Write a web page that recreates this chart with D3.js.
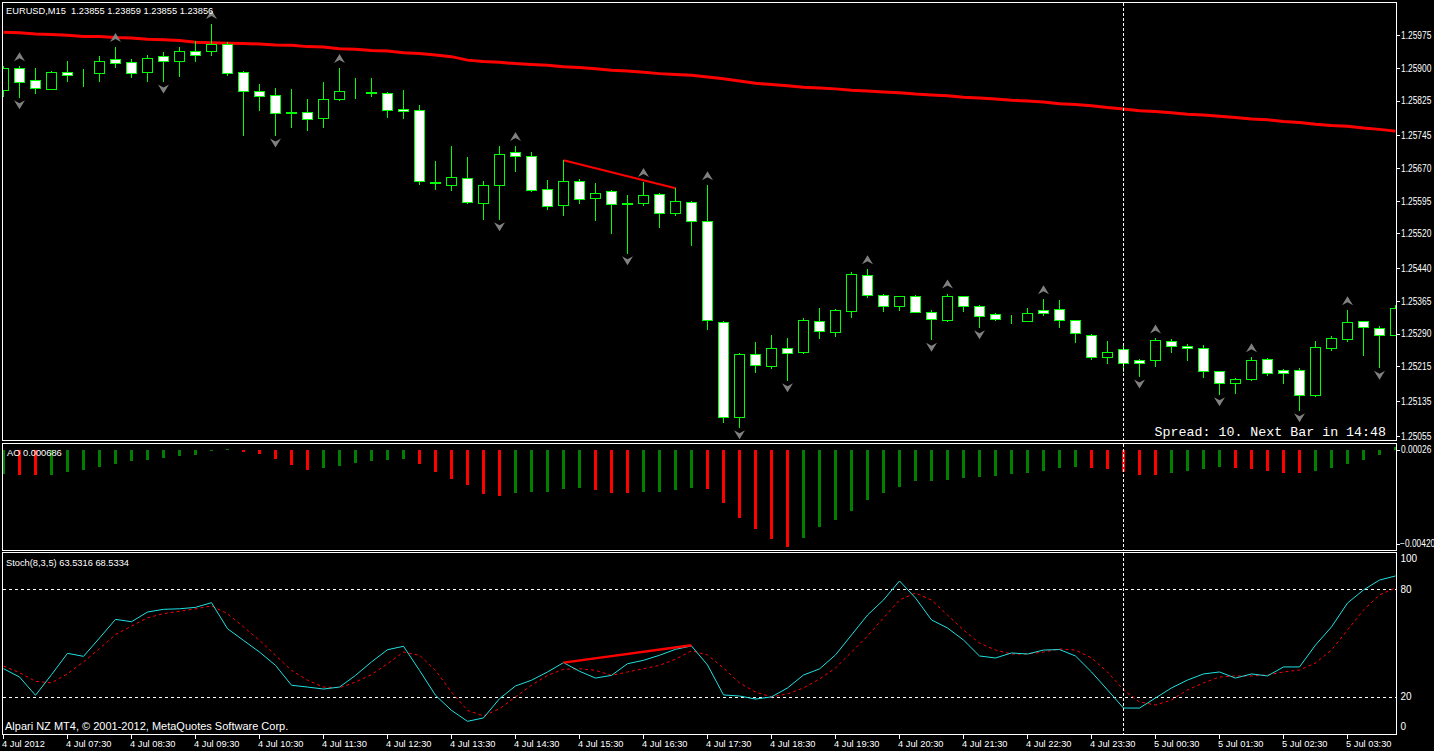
<!DOCTYPE html>
<html><head><meta charset="utf-8">
<script src="https://cdn.jsdelivr.net/npm/d3@7"></script>
<style>html,body{margin:0;padding:0;background:#000;overflow:hidden}</style>
</head><body><svg id="c" width="1434" height="751"></svg>
<script>
// ---------- DATA ----------
const timeLabels = ["4 Jul 2012","4 Jul 07:30","4 Jul 08:30","4 Jul 09:30","4 Jul 10:30","4 Jul 11:30","4 Jul 12:30","4 Jul 13:30","4 Jul 14:30","4 Jul 15:30","4 Jul 16:30","4 Jul 17:30","4 Jul 18:30","4 Jul 19:30","4 Jul 20:30","4 Jul 21:30","4 Jul 22:30","4 Jul 23:30","5 Jul 00:30","5 Jul 01:30","5 Jul 02:30","5 Jul 03:30"];
const barsPerLabel = 4;

const opens = [1.25849,1.25900,1.25872,1.25851,1.25891,1.25886,1.25888,1.25920,1.25914,1.25891,1.25927,1.25916,1.25938,1.25940,1.25955,1.25891,1.25846,1.25837,1.25798,1.25800,1.25786,1.25829,1.25845,1.25842,1.25842,1.25805,1.25803,1.25639,1.25632,1.25647,1.25589,1.25631,1.25706,1.25699,1.25621,1.25585,1.25640,1.25601,1.25617,1.25590,1.25589,1.25610,1.25566,1.25592,1.25549,1.25317,1.25098,1.25243,1.25216,1.25256,1.25247,1.25318,1.25294,1.25343,1.25424,1.25378,1.25354,1.25376,1.25339,1.25322,1.25376,1.25353,1.25334,1.25323,1.25320,1.25344,1.25346,1.25321,1.25288,1.25237,1.25254,1.25229,1.25229,1.25272,1.25261,1.25256,1.25204,1.25176,1.25185,1.25231,1.25206,1.25206,1.25148,1.25256,1.25277,1.25318,1.25302,1.25288];
const highs = [1.25904,1.25904,1.25900,1.25893,1.25916,1.25898,1.25927,1.25948,1.25921,1.25930,1.25937,1.25948,1.25961,1.26001,1.25960,1.25893,1.25863,1.25853,1.25852,1.25829,1.25868,1.25900,1.25878,1.25878,1.25845,1.25849,1.25815,1.25686,1.25721,1.25696,1.25640,1.25721,1.25721,1.25706,1.25643,1.25688,1.25644,1.25635,1.25619,1.25608,1.25638,1.25612,1.25624,1.25594,1.25631,1.25319,1.25245,1.25271,1.25287,1.25279,1.25325,1.25349,1.25347,1.25431,1.25438,1.25380,1.25377,1.25379,1.25344,1.25382,1.25377,1.25356,1.25338,1.25332,1.25350,1.25369,1.25367,1.25322,1.25289,1.25272,1.25268,1.25231,1.25279,1.25277,1.25266,1.25263,1.25205,1.25188,1.25236,1.25233,1.25208,1.25210,1.25272,1.25284,1.25344,1.25319,1.25307,1.25356];
const lows = [1.25836,1.25834,1.25843,1.25851,1.25870,1.25859,1.25870,1.25903,1.25879,1.25870,1.25870,1.25882,1.25916,1.25930,1.25884,1.25746,1.25803,1.25746,1.25765,1.25758,1.25765,1.25826,1.25832,1.25836,1.25788,1.25786,1.25634,1.25622,1.25620,1.25590,1.25554,1.25554,1.25664,1.25617,1.25577,1.25563,1.25591,1.25552,1.25522,1.25476,1.25586,1.25536,1.25563,1.25494,1.25300,1.25086,1.25076,1.25203,1.25210,1.25184,1.25245,1.25281,1.25285,1.25329,1.25375,1.25343,1.25345,1.25339,1.25277,1.25320,1.25343,1.25306,1.25321,1.25314,1.25319,1.25332,1.25305,1.25270,1.25231,1.25223,1.25205,1.25193,1.25216,1.25249,1.25229,1.25191,1.25152,1.25154,1.25183,1.25194,1.25176,1.25115,1.25147,1.25252,1.25272,1.25240,1.25213,1.25287];
const closes = [1.25900,1.25867,1.25853,1.25891,1.25884,1.25886,1.25916,1.25912,1.25889,1.25924,1.25915,1.25938,1.25930,1.25955,1.25889,1.25848,1.25836,1.25797,1.25797,1.25783,1.25828,1.25847,1.25844,1.25845,1.25804,1.25802,1.25640,1.25636,1.25649,1.25592,1.25631,1.25702,1.25697,1.25619,1.25582,1.25640,1.25598,1.25612,1.25587,1.25588,1.25608,1.25566,1.25594,1.25548,1.25321,1.25098,1.25243,1.25217,1.25256,1.25246,1.25321,1.25297,1.25344,1.25426,1.25379,1.25354,1.25376,1.25340,1.25323,1.25376,1.25353,1.25331,1.25324,1.25323,1.25337,1.25338,1.25321,1.25291,1.25237,1.25249,1.25222,1.25222,1.25275,1.25261,1.25256,1.25204,1.25176,1.25187,1.25229,1.25199,1.25199,1.25148,1.25259,1.25279,1.25316,1.25305,1.25288,1.25350];
const maValues = [1.25982,1.25981,1.25978,1.25977,1.25975,1.25972,1.25972,1.25970,1.25969,1.25966,1.25965,1.25963,1.25959,1.25958,1.25957,1.25956,1.25955,1.25953,1.25952,1.25949,1.25948,1.25944,1.25943,1.25940,1.25939,1.25935,1.25933,1.25930,1.25926,1.25918,1.25915,1.25913,1.25910,1.25908,1.25906,1.25903,1.25901,1.25898,1.25895,1.25893,1.25890,1.25887,1.25885,1.25883,1.25879,1.25875,1.25870,1.25865,1.25862,1.25859,1.25856,1.25854,1.25852,1.25849,1.25847,1.25845,1.25843,1.25840,1.25838,1.25836,1.25833,1.25831,1.25829,1.25826,1.25824,1.25822,1.25818,1.25816,1.25813,1.25809,1.25806,1.25802,1.25800,1.25797,1.25794,1.25792,1.25789,1.25786,1.25783,1.25781,1.25777,1.25775,1.25771,1.25768,1.25766,1.25762,1.25759,1.25755];
const upFractalBars = [1,7,13,21,32,40,44,54,59,65,72,78,84];
const downFractalBars = [1,10,17,31,39,46,49,58,61,71,76,81,86];
const priceTrendBars = [35,42];
const priceTrendValues = [1.25688,1.25624];
const priceTicks = [1.25975,1.25900,1.25825,1.25745,1.25670,1.25595,1.25520,1.25440,1.25365,1.25290,1.25215,1.25135,1.25055];

const aoValues = [-0.00100,-0.00104,-0.00106,-0.00105,-0.00093,-0.00084,-0.00071,-0.00058,-0.00045,-0.00041,-0.00033,-0.00024,-0.00020,-0.00004,0.00004,-0.00006,-0.00016,-0.00038,-0.00062,-0.00084,-0.00075,-0.00067,-0.00054,-0.00045,-0.00041,-0.00037,-0.00058,-0.00092,-0.00122,-0.00147,-0.00186,-0.00195,-0.00182,-0.00178,-0.00177,-0.00165,-0.00161,-0.00169,-0.00182,-0.00183,-0.00178,-0.00177,-0.00169,-0.00161,-0.00165,-0.00225,-0.00288,-0.00336,-0.00378,-0.00413,-0.00374,-0.00327,-0.00297,-0.00259,-0.00212,-0.00182,-0.00156,-0.00131,-0.00130,-0.00129,-0.00118,-0.00114,-0.00110,-0.00101,-0.00097,-0.00088,-0.00075,-0.00071,-0.00075,-0.00080,-0.00093,-0.00105,-0.00106,-0.00097,-0.00088,-0.00080,-0.00071,-0.00075,-0.00080,-0.00088,-0.00097,-0.00098,-0.00088,-0.00075,-0.00058,-0.00041,-0.00020,0.00013];
const aoTicks = [0.00026,-0.00420];

const stochK = [35.8,31.2,21.0,32.5,44.4,42.7,52.9,63.3,62.0,67.4,68.9,69.2,70.0,72.6,58.1,51.6,45.1,37.7,26.6,25.6,24.5,25.6,32.1,39.6,46.4,48.3,34.9,21.0,12.6,6.5,8.4,19.1,26.2,29.4,34.0,39.2,34.4,30.6,32.1,38.6,40.5,43.3,46.6,48.5,37.9,21.2,20.6,18.9,20.1,25.1,32.3,35.7,43.5,54.6,65.7,74.1,84.7,75.2,63.0,58.5,51.8,42.9,41.8,44.6,44.0,46.2,46.5,42.9,34.0,24.0,13.9,13.9,19.5,25.1,29.5,32.9,34.0,30.6,32.9,31.8,36.8,36.8,49.0,59.1,72.4,79.7,85.2,87.5];
const stochD = [37.3,33.6,28.8,27.9,33.0,39.6,47.0,54.8,59.6,64.2,66.5,67.8,69.2,70.8,66.5,59.1,51.6,43.3,34.9,29.4,25.6,25.2,28.4,32.5,38.6,45.1,43.3,34.9,22.8,12.6,9.5,13.5,20.1,26.6,32.1,35.5,35.8,34.9,32.1,34.0,35.8,37.7,41.1,45.8,43.5,36.2,27.9,22.8,20.1,21.8,25.1,30.1,36.2,45.1,54.0,64.1,74.1,78.0,74.1,65.7,57.4,50.1,46.2,44.0,44.0,45.1,46.8,46.2,41.8,34.0,24.0,17.3,15.6,18.4,24.0,27.9,31.2,31.8,31.8,32.3,34.0,35.1,39.0,46.2,57.4,68.5,76.9,80.8];
const stochLevels = [80,20];
const stochTicks = [100,80,20,0];
const stochTrendBars = [35,43];
const stochTrendValues = [39.2,48.9];
const crosshairBar = 70;

const headerText = "EURUSD,M15  1.23855 1.23859 1.23855 1.23856";
const aoText = "AO 0.000686";
const stochText = "Stoch(8,3,5) 63.5316 68.5334";
const copyrightText = "Alpari NZ MT4, \u00a9 2001-2012, MetaQuotes Software Corp.";
const spreadText = "Spread: 10. Next Bar in 14:48";

// ---------- LAYOUT ----------
const W = 1434, H = 751;
const L = 2.5, R = 1396.5;
const P = {top:2.5, bottom:440.5};
const A = {top:443.5, bottom:550.5};
const S = {top:552.5, bottom:734.5};
const font = "'Liberation Sans', Arial, sans-serif";
const GREEN = "#00ff00";

const svg = d3.select("#c");
svg.append("rect").attr("width",W).attr("height",H).attr("fill","#000");

const n = opens.length;
const x = d3.scaleLinear().domain([0, n-1]).range([3.5, 3.5 + 16*(n-1)]);
const yP = d3.scaleLinear().domain([1.25975, 1.25055]).range([35.3, 436]);
const yA = d3.scaleLinear().domain([0.00026, -0.00420]).range([444, 549]);
const yS = d3.scaleLinear().domain([100, 0]).range([553.5, 733]);
const px = i => Math.floor(x(i));

const defs = svg.append("defs");
function clip(id, b){ defs.append("clipPath").attr("id",id).append("rect").attr("x",L+0.5).attr("y",b.top+0.5).attr("width",R-L-1).attr("height",b.bottom-b.top-1); }
clip("cp",P); clip("ca",A); clip("cs",S);

// ---------- PRICE PANEL ----------
const gp = svg.append("g").attr("clip-path","url(#cp)");
const idx = d3.range(n);

gp.append("path").datum(idx)
  .attr("d", d3.line().x(i=>x(i)).y(i=>yP(maValues[i])))
  .attr("fill","none").attr("stroke","#ff0000").attr("stroke-width",3);

gp.append("line")
  .attr("x1",x(priceTrendBars[0])).attr("y1",yP(priceTrendValues[0]))
  .attr("x2",x(priceTrendBars[1])).attr("y2",yP(priceTrendValues[1]))
  .attr("stroke","#ff0000").attr("stroke-width",2);

gp.selectAll("line.wick").data(idx).join("line").attr("class","wick")
  .attr("x1",i=>px(i)+0.5).attr("x2",i=>px(i)+0.5)
  .attr("y1",i=>Math.round(yP(highs[i]))).attr("y2",i=>Math.round(yP(lows[i]))+1)
  .attr("stroke",GREEN).attr("stroke-width",1).attr("shape-rendering","crispEdges");

gp.selectAll("rect.body").data(idx).join("rect").attr("class","body")
  .attr("x",i=>px(i)-4.5)
  .attr("width",10)
  .attr("y",i=>Math.round(yP(Math.max(opens[i],closes[i])))+0.5)
  .attr("height",i=>Math.max(0,Math.round(yP(Math.min(opens[i],closes[i])))-Math.round(yP(Math.max(opens[i],closes[i])))))
  .attr("fill",i=>closes[i]>=opens[i]?"#000":"#fff")
  .attr("stroke",GREEN).attr("stroke-width",1).attr("shape-rendering","crispEdges");

const upPath = "M0,-4.5 L5.5,4.5 L0,1.5 L-5.5,4.5 Z";
const dnPath = "M0,4.5 L5.5,-4.5 L0,-1.5 L-5.5,-4.5 Z";
gp.selectAll("path.fu").data(upFractalBars).join("path").attr("class","fu")
  .attr("d",upPath).attr("transform",i=>`translate(${px(i)+0.5},${yP(highs[i])-9.5})`)
  .attr("fill","#808080");
gp.selectAll("path.fd").data(downFractalBars).join("path").attr("class","fd")
  .attr("d",dnPath).attr("transform",i=>`translate(${px(i)+0.5},${yP(lows[i])+8})`)
  .attr("fill","#808080");

// ---------- AO PANEL ----------
const ga = svg.append("g").attr("clip-path","url(#ca)");
ga.selectAll("rect").data(idx).join("rect")
  .attr("x",i=>px(i)-1)
  .attr("width",3)
  .attr("y",i=>Math.min(yA(0),yA(aoValues[i])))
  .attr("height",i=>Math.max(1,Math.abs(yA(aoValues[i])-yA(0))))
  .attr("fill",i=> (i>0 && aoValues[i] < aoValues[i-1]) ? "#ff0000" : "#008000")
  .attr("shape-rendering","crispEdges");

// ---------- STOCH PANEL ----------
const gs = svg.append("g").attr("clip-path","url(#cs)");
gs.selectAll("line.lvl").data(stochLevels).join("line").attr("class","lvl")
  .attr("x1",L).attr("x2",R).attr("y1",v=>Math.round(yS(v))+0.5).attr("y2",v=>Math.round(yS(v))+0.5)
  .attr("stroke","#fff").attr("stroke-dasharray","3,3").attr("shape-rendering","crispEdges");
gs.append("path").datum(idx)
  .attr("d", d3.line().x(i=>x(i)).y(i=>yS(stochD[i])))
  .attr("fill","none").attr("stroke","#ff0000").attr("stroke-width",1).attr("stroke-dasharray","3,3");
gs.append("path").datum(idx)
  .attr("d", d3.line().x(i=>x(i)).y(i=>yS(stochK[i])))
  .attr("fill","none").attr("stroke","#20e0e0").attr("stroke-width",1);
gs.append("line")
  .attr("x1",x(stochTrendBars[0])).attr("y1",yS(stochTrendValues[0]))
  .attr("x2",x(stochTrendBars[1])).attr("y2",yS(stochTrendValues[1]))
  .attr("stroke","#ff0000").attr("stroke-width",2.5);

// ---------- CROSSHAIR ----------
[P,A,S].forEach(b=>{
  svg.append("line").attr("x1",px(crosshairBar)+0.5).attr("x2",px(crosshairBar)+0.5)
    .attr("y1",b.top).attr("y2",b.bottom)
    .attr("stroke","#fff").attr("stroke-dasharray","3,2").attr("shape-rendering","crispEdges");
});

// ---------- FRAMES ----------
[P,A,S].forEach(b=>{
  svg.append("rect").attr("x",L).attr("y",b.top).attr("width",R-L).attr("height",b.bottom-b.top)
    .attr("fill","none").attr("stroke","#fff").attr("stroke-width",1).attr("shape-rendering","crispEdges");
});

// ---------- AXES ----------
const SQ = 0.84; // horizontal squeeze for the narrow axis font
function rightAxis(scale, ticks, fmt, squeeze, ext){
  const g = svg.append("g").attr("transform",`translate(${R},0)`);
  const ax = d3.axisRight(scale).tickValues(ticks).tickFormat(fmt).tickSize(3).tickPadding(1);
  g.call(ax);
  g.select(".domain").remove();
  g.selectAll("line").attr("stroke","#fff").attr("shape-rendering","crispEdges");
  g.selectAll("text").attr("fill","#fff").attr("font-family",font).attr("font-size","10px");
  if(squeeze){
    g.selectAll("text").attr("x",4.5/SQ).attr("transform",`scale(${SQ},1)`);
  }
  if(ext) ext(g);
  return g;
}
rightAxis(yP, priceTicks, d3.format(".5f"), true);
rightAxis(yA, aoTicks, d3.format(".5f"), true, g=>{
  g.selectAll(".tick").attr("transform",(d)=>`translate(0,${d>0?450:544})`);
  g.selectAll(".tick text").attr("x",d=>(d<0?3.5:4.5)/SQ);
});
rightAxis(yS, stochTicks, d3.format("d"), false, g=>{
  g.selectAll(".tick line").remove();
  g.selectAll(".tick").attr("transform",d=>`translate(0,${d===100?559:(d===0?727:yS(d))})`);
  g.selectAll("text").attr("x",4);
});

// time axis
const tickBars = timeLabels.map((_,k)=>k*barsPerLabel);
const gx = svg.append("g").attr("transform",`translate(0,${S.bottom})`);
gx.call(d3.axisBottom(x).tickValues(tickBars).tickFormat((d,k)=>timeLabels[k]).tickSize(4).tickPadding(2));
gx.select(".domain").remove();
gx.selectAll(".tick").attr("transform",d=>`translate(${px(d)+0.5},0)`);
gx.selectAll("line").attr("stroke","#fff").attr("shape-rendering","crispEdges");
gx.selectAll("text").attr("fill","#fff").attr("font-family",font).attr("font-size","9.3px")
  .attr("text-anchor","start").attr("dx","-1.5px");

// ---------- TEXTS ----------
svg.append("text").attr("x",6).attr("y",14).text(headerText)
  .attr("fill","#fff").attr("font-family",font).attr("font-size","9.3px").style("white-space","pre");
svg.append("text").attr("x",7).attr("y",456).text(aoText)
  .attr("fill","#fff").attr("font-family",font).attr("font-size","9.3px");
svg.append("text").attr("x",6).attr("y",566).text(stochText)
  .attr("fill","#fff").attr("font-family",font).attr("font-size","9.3px");
svg.append("text").attr("x",5).attr("y",730).text(copyrightText)
  .attr("fill","#fff").attr("font-family",font).attr("font-size","11px");
svg.append("text").attr("x",1386).attr("y",436).attr("text-anchor","end").text(spreadText)
  .attr("fill","#fff").attr("font-family","'Liberation Mono', 'DejaVu Sans Mono', monospace").attr("font-size","13.3px").style("white-space","pre");
</script>
</body></html>
